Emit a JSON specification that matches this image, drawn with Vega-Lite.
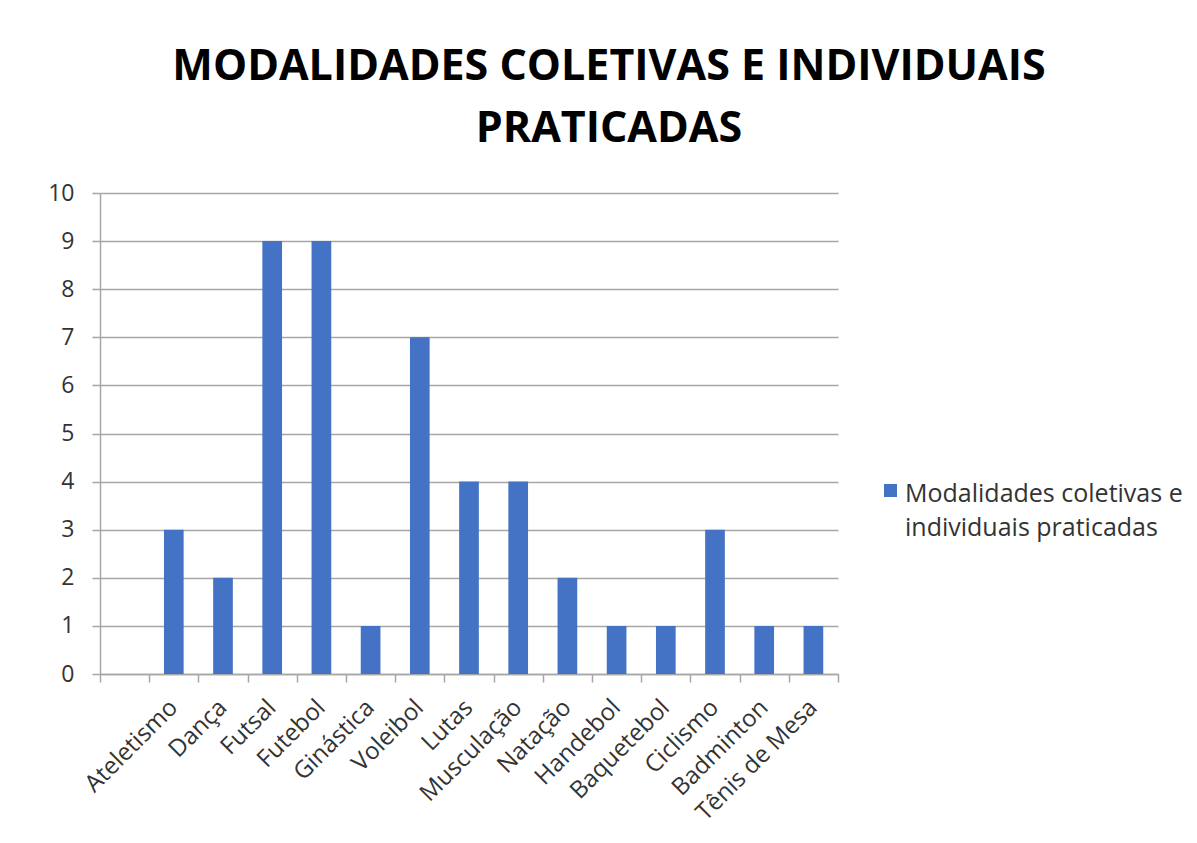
{
  "$schema": "https://vega.github.io/schema/vega-lite/v6.json",
  "autosize": {"type": "none"},
  "width": 738,
  "height": 481,
  "padding": {"left": 100, "top": 193, "right": 359, "bottom": 169},
  "background": "white",
  "title": {
    "text": ["MODALIDADES COLETIVAS E INDIVIDUAIS", "PRATICADAS"],
    "font": "Open Sans",
    "fontSize": 43,
    "fontWeight": "bold",
    "color": "#000000",
    "anchor": "middle",
    "frame": "group",
    "dx": 140,
    "lineHeight": 62,
    "baseline": "bottom",
    "offset": -12
  },
  "data": {
    "values": [
      {"modalidade": "Ateletismo", "valor": 3, "serie": "Modalidades coletivas e individuais praticadas"},
      {"modalidade": "Dança", "valor": 2, "serie": "Modalidades coletivas e individuais praticadas"},
      {"modalidade": "Futsal", "valor": 9, "serie": "Modalidades coletivas e individuais praticadas"},
      {"modalidade": "Futebol", "valor": 9, "serie": "Modalidades coletivas e individuais praticadas"},
      {"modalidade": "Ginástica", "valor": 1, "serie": "Modalidades coletivas e individuais praticadas"},
      {"modalidade": "Voleibol", "valor": 7, "serie": "Modalidades coletivas e individuais praticadas"},
      {"modalidade": "Lutas", "valor": 4, "serie": "Modalidades coletivas e individuais praticadas"},
      {"modalidade": "Musculação", "valor": 4, "serie": "Modalidades coletivas e individuais praticadas"},
      {"modalidade": "Natação", "valor": 2, "serie": "Modalidades coletivas e individuais praticadas"},
      {"modalidade": "Handebol", "valor": 1, "serie": "Modalidades coletivas e individuais praticadas"},
      {"modalidade": "Baquetebol", "valor": 1, "serie": "Modalidades coletivas e individuais praticadas"},
      {"modalidade": "Ciclismo", "valor": 3, "serie": "Modalidades coletivas e individuais praticadas"},
      {"modalidade": "Badminton", "valor": 1, "serie": "Modalidades coletivas e individuais praticadas"},
      {"modalidade": "Tênis de Mesa", "valor": 1, "serie": "Modalidades coletivas e individuais praticadas"}
    ]
  },
  "mark": {"type": "bar", "width": {"band": 0.4}},
  "encoding": {
    "x": {
      "field": "modalidade",
      "type": "nominal",
      "sort": null,
      "scale": {
        "domain": [" ", "Ateletismo", "Dança", "Futsal", "Futebol", "Ginástica", "Voleibol", "Lutas", "Musculação", "Natação", "Handebol", "Baquetebol", "Ciclismo", "Badminton", "Tênis de Mesa"],
        "paddingInner": 0,
        "paddingOuter": 0
      },
      "axis": {
        "title": null,
        "labelAngle": -45,
        "labelAlign": "right",
        "labelBaseline": "middle",
        "labelPadding": 28,
        "labelOffset": 6,
        "tickBand": "extent",
        "ticks": true,
        "tickSize": 8,
        "tickColor": "#a6a6a6",
        "tickWidth": 1.5,
        "domainColor": "#a6a6a6",
        "domainWidth": 1.5,
        "grid": false,
        "labelFont": "Open Sans",
        "labelFontSize": 24,
        "labelColor": "#333333",
        "labelOverlap": false
      }
    },
    "y": {
      "field": "valor",
      "type": "quantitative",
      "scale": {"domain": [0, 10]},
      "axis": {
        "title": null,
        "values": [0, 1, 2, 3, 4, 5, 6, 7, 8, 9, 10],
        "grid": true,
        "gridColor": "#a6a6a6",
        "gridWidth": 1.5,
        "domain": true,
        "domainColor": "#a6a6a6",
        "domainWidth": 1.5,
        "ticks": true,
        "tickSize": 8,
        "tickColor": "#a6a6a6",
        "tickWidth": 1.5,
        "labelPadding": 18,
        "labelOffset": 9,
        "labelFont": "Open Sans",
        "labelFontSize": 23,
        "labelColor": "#333333"
      }
    },
    "color": {
      "field": "serie",
      "type": "nominal",
      "scale": {"range": ["#4472C4"]},
      "legend": {
        "title": null,
        "orient": "none",
        "legendX": 778,
        "legendY": 285,
        "symbolType": "square",
        "symbolSize": 169,
        "symbolStrokeWidth": 0,
        "labelFont": "Open Sans",
        "labelFontSize": 25,
        "labelColor": "#333333",
        "labelLimit": 400,
        "labelOffset": 2,
        "labelBaseline": "top",
        "labelExpr": "['Modalidades coletivas e', 'individuais praticadas']"
      }
    }
  },
  "config": {
    "view": {"stroke": null},
    "style": {"guide-label": {"lineHeight": 34, "dy": -9}}
  }
}
